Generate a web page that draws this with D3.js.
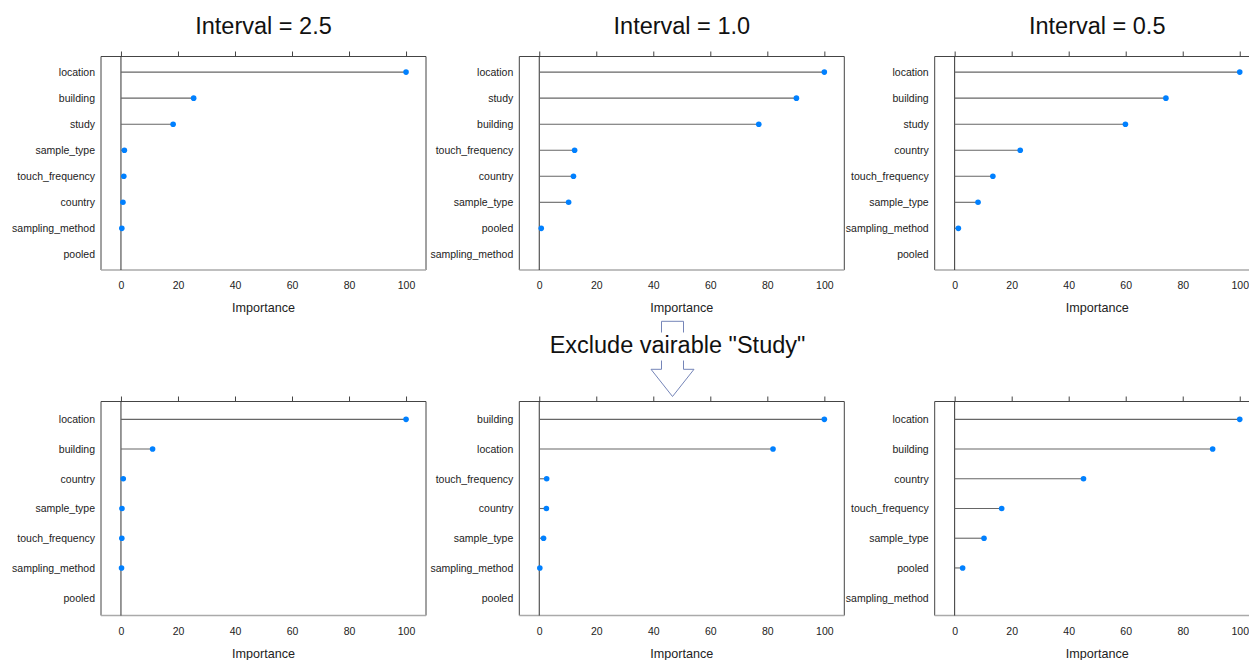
<!DOCTYPE html>
<html>
<head>
<meta charset="utf-8">
<script src="https://cdn.jsdelivr.net/npm/d3@7"></script>
<style>
  html, body { margin: 0; padding: 0; background: #fff; }
  svg { display: block; font-family: "Liberation Sans", Arial, Helvetica, sans-serif; }
</style>
</head>
<body>
<svg id="chart" width="1249" height="660"></svg>
<script>
// Variable importance (scaled 0-100) per sampling interval, all variables
const varsI25 = ["location", "building", "study", "sample_type", "touch_frequency", "country", "sampling_method", "pooled"];
const impI25  = [100, 25.5, 18.3, 1.2, 1.0, 0.7, 0.3, null];

const varsI10 = ["location", "study", "building", "touch_frequency", "country", "sample_type", "pooled", "sampling_method"];
const impI10  = [100, 90.2, 77.0, 12.4, 12.0, 10.3, 0.7, null];

const varsI05 = ["location", "building", "study", "country", "touch_frequency", "sample_type", "sampling_method", "pooled"];
const impI05  = [100, 74.1, 59.9, 23.0, 13.4, 8.2, 1.3, null];

// Same models refit without the "study" variable
const varsX25 = ["location", "building", "country", "sample_type", "touch_frequency", "sampling_method", "pooled"];
const impX25  = [100, 11.1, 0.8, 0.35, 0.3, 0.2, null];

const varsX10 = ["building", "location", "touch_frequency", "country", "sample_type", "sampling_method", "pooled"];
const impX10  = [100, 82.0, 2.6, 2.5, 1.5, 0.2, null];

const varsX05 = ["location", "building", "country", "touch_frequency", "sample_type", "pooled", "sampling_method"];
const impX05  = [100, 90.5, 45.2, 16.5, 10.3, 2.8, null];

const xTicks = [0, 20, 40, 60, 80, 100];
const xTitle = "Importance";
const columnTitles = ["Interval = 2.5", "Interval = 1.0", "Interval = 0.5"];
const middleNote = "Exclude vairable \"Study\"";

const svg = d3.select("#chart");

const colLeft = [101, 519.3, 934.7];
const frameW = 325;
const rowTop = [56.5, 401.5];
const rowBottom = [270, 615.5];

const panels = [
  { vars: varsI25, vals: impI25, col: 0, row: 0 },
  { vars: varsI10, vals: impI10, col: 1, row: 0 },
  { vars: varsI05, vals: impI05, col: 2, row: 0 },
  { vars: varsX25, vals: impX25, col: 0, row: 1 },
  { vars: varsX10, vals: impX10, col: 1, row: 1 },
  { vars: varsX05, vals: impX05, col: 2, row: 1 }
];

function drawPanel(p) {
  const x0 = colLeft[p.col], x1 = x0 + frameW;
  const y0 = rowTop[p.row], y1 = rowBottom[p.row];
  const x = d3.scaleLinear().domain([-7, 107]).range([x0, x1]);
  const y = d3.scalePoint().domain(p.vars).range([y0, y1]).padding(0.6);
  const g = svg.append("g");

  // frame: dark on three sides, light grey along the bottom
  g.append("path")
    .attr("d", `M${x0},${y1}V${y0}H${x1}V${y1}`)
    .attr("fill", "none").attr("stroke", "#444").attr("stroke-width", 1);
  g.append("line")
    .attr("x1", x0).attr("x2", x1).attr("y1", y1).attr("y2", y1)
    .attr("stroke", "#aaa").attr("stroke-width", 1.6);

  // tick marks above the frame
  g.append("g")
    .attr("transform", `translate(0,${y0})`)
    .call(d3.axisTop(x).tickValues(xTicks).tickSize(5).tickFormat(""))
    .call(a => a.select(".domain").remove())
    .call(a => a.selectAll("line").attr("stroke", "#444"));

  // tick labels below the frame
  g.append("g")
    .attr("transform", `translate(0,${y1})`)
    .call(d3.axisBottom(x).tickValues(xTicks).tickSize(0).tickPadding(12))
    .call(a => a.select(".domain").remove())
    .call(a => a.selectAll("text")
      .attr("font-size", 10.5).attr("fill", "#222")
      .attr("font-family", "Liberation Sans, Arial, sans-serif"));

  // axis title
  g.append("text")
    .attr("x", (x0 + x1) / 2).attr("y", y1 + 42)
    .attr("text-anchor", "middle").attr("font-size", 12.6).attr("fill", "#222")
    .text(xTitle);

  // variable names
  g.append("g")
    .attr("transform", `translate(${x0},0)`)
    .call(d3.axisLeft(y).tickSize(0).tickPadding(6))
    .call(a => a.select(".domain").remove())
    .call(a => a.selectAll("text")
      .attr("font-size", 10.5).attr("fill", "#222")
      .attr("font-family", "Liberation Sans, Arial, sans-serif"));

  // reference line at zero
  g.append("line")
    .attr("x1", x(0)).attr("x2", x(0)).attr("y1", y0).attr("y2", y1)
    .attr("stroke", "#333").attr("stroke-width", 1);

  const rows = p.vars.map((v, i) => ({ v, val: p.vals[i] })).filter(d => d.val != null);

  g.selectAll("line.stem").data(rows).join("line")
    .attr("class", "stem")
    .attr("x1", x(0)).attr("x2", d => x(d.val))
    .attr("y1", d => y(d.v)).attr("y2", d => y(d.v))
    .attr("stroke", "#666").attr("stroke-width", 1.1);

  g.selectAll("circle").data(rows).join("circle")
    .attr("cx", d => x(d.val)).attr("cy", d => y(d.v))
    .attr("r", 2.8).attr("fill", "#0080ff");
}

panels.forEach(drawPanel);

// column titles
columnTitles.forEach((t, i) => {
  svg.append("text")
    .attr("x", colLeft[i] + frameW / 2).attr("y", 33.5)
    .attr("text-anchor", "middle").attr("font-size", 23.5).attr("fill", "#111")
    .text(t);
});

// outlined down arrow between the two rows
const ax = 672.5;
const arrow = d3.path();
arrow.moveTo(ax - 11, 369.3);
arrow.lineTo(ax - 11, 321.3);
arrow.lineTo(ax + 11, 321.3);
arrow.lineTo(ax + 11, 369.3);
arrow.lineTo(ax + 21.5, 369.3);
arrow.lineTo(ax, 396.5);
arrow.lineTo(ax - 21.5, 369.3);
arrow.closePath();
svg.append("path")
  .attr("d", arrow.toString())
  .attr("fill", "#fff").attr("stroke", "#7585b8").attr("stroke-width", 1);

// note, on a white backing so it sits over the arrow shaft
svg.append("rect")
  .attr("x", 548).attr("y", 332.5).attr("width", 260).attr("height", 28)
  .attr("fill", "#fff");
svg.append("text")
  .attr("x", 677.5).attr("y", 353)
  .attr("text-anchor", "middle").attr("font-size", 23.5).attr("fill", "#111")
  .text(middleNote);
</script>
</body>
</html>
